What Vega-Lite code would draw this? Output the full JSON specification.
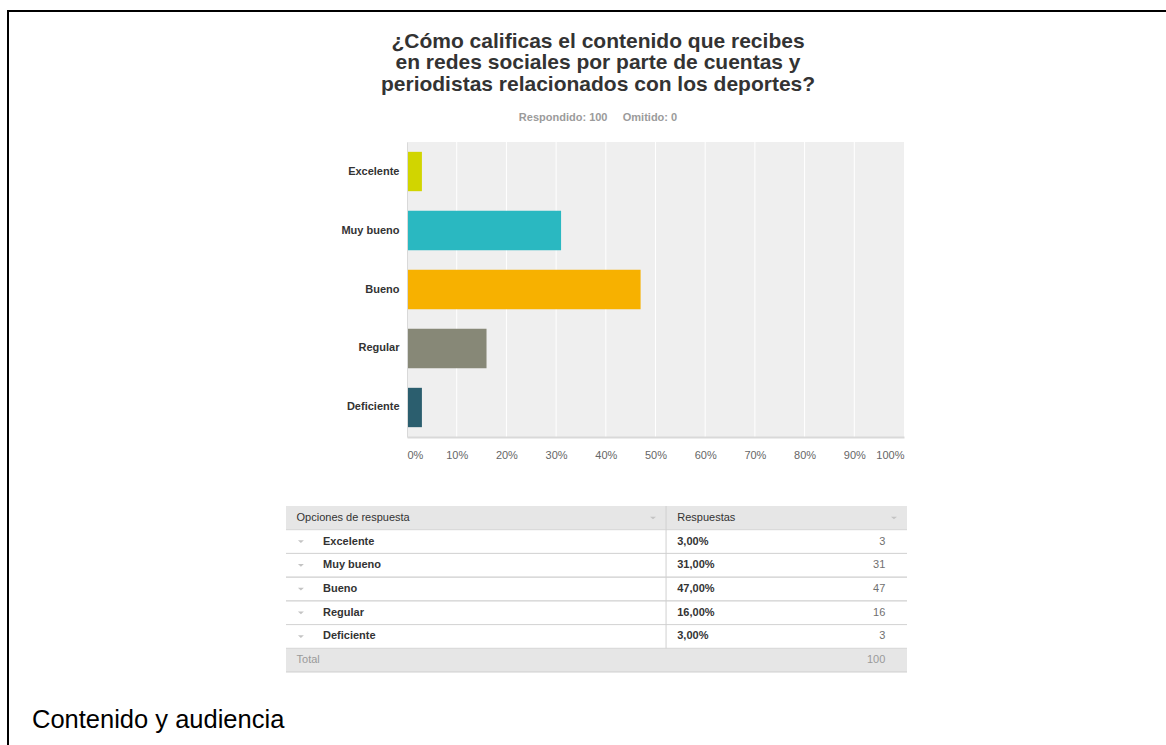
{
  "$schema": "https://vega.github.io/schema/vega-lite/v6.json",
  "width": 1158,
  "height": 734,
  "autosize": {"type": "none"},
  "padding": {"left": 8, "top": 11, "right": 0, "bottom": 0},
  "background": "#ffffff",
  "config": {
    "view": {"stroke": "#000000", "strokeWidth": 2, "strokeDash": [1158, 1892, 734]},
    "font": "Liberation Sans",
    "text": {"font": "Liberation Sans"},
    "locale": {"number": {"decimal": ",", "thousands": ".", "grouping": [3], "currency": ["", "\u00a0€"]}}
  },
  "title": {
    "text": ["¿Cómo calificas el contenido que recibes", "en redes sociales por parte de cuentas y", "periodistas relacionados con los deportes?"],
    "subtitle": "Respondido: 100\u00a0\u00a0\u00a0\u00a0\u00a0Omitido: 0",
    "orient": "top",
    "anchor": "middle",
    "frame": "group",
    "offset": -112,
    "dx": 11,
    "font": "Liberation Sans",
    "fontSize": 21,
    "fontWeight": "bold",
    "color": "#333333",
    "lineHeight": 21.6,
    "subtitleFont": "Liberation Sans",
    "subtitleFontSize": 11,
    "subtitleFontWeight": "bold",
    "subtitleColor": "#9b9b9b",
    "subtitlePadding": 17
  },
  "datasets": {
    "respuestas": [
      {"opcion": "Excelente", "pct": 0.03, "n": 3},
      {"opcion": "Muy bueno", "pct": 0.31, "n": 31},
      {"opcion": "Bueno", "pct": 0.47, "n": 47},
      {"opcion": "Regular", "pct": 0.16, "n": 16},
      {"opcion": "Deficiente", "pct": 0.03, "n": 3}
    ],
    "rejilla": [{"v": 0.1}, {"v": 0.2}, {"v": 0.3}, {"v": 0.4}, {"v": 0.5}, {"v": 0.6}, {"v": 0.7}, {"v": 0.8}, {"v": 0.9}]
  },
  "data": {"name": "respuestas"},
  "layer": [
    {
      "layer": [
        {
          "data": {"values": [{}]},
          "mark": {"type": "rect", "color": "#efefef"},
          "encoding": {
            "x": {"datum": 0, "type": "quantitative", "scale": {"domain": [0, 1], "range": [399, 896], "nice": false, "zero": false}},
            "x2": {"datum": 1},
            "y": {"datum": 0, "type": "quantitative", "scale": {"domain": [0, 1], "range": [131, 426], "nice": false, "zero": false}, "axis": null},
            "y2": {"datum": 1}
          }
        },
        {
          "data": {"name": "rejilla"},
          "mark": {"type": "rule", "color": "#ffffff", "strokeWidth": 1},
          "encoding": {
            "x": {"field": "v", "type": "quantitative"},
            "y": {"datum": 0, "type": "quantitative", "scale": {"domain": [0, 1], "range": [131, 426], "nice": false, "zero": false}, "axis": null},
            "y2": {"datum": 1}
          }
        },
        {
          "mark": {"type": "bar"},
          "encoding": {
            "y": {
              "field": "opcion", "type": "nominal",
              "scale": {"domain": ["Excelente", "Muy bueno", "Bueno", "Regular", "Deficiente"], "range": [131, 426], "paddingInner": 0.333, "paddingOuter": 0.1667},
              "axis": {"orient": "left", "offset": -399, "ticks": false, "domain": true, "domainColor": "#d9d9d9", "domainWidth": 1, "labelPadding": 8, "labelFont": "Liberation Sans", "labelFontSize": 11, "labelFontWeight": "bold", "labelColor": "#333333", "title": null, "grid": false, "zindex": 1}
            },
            "x": {
              "field": "pct", "type": "quantitative",
              "axis": {"orient": "bottom", "offset": -308, "values": [0, 0.1, 0.2, 0.3, 0.4, 0.5, 0.6, 0.7, 0.8, 0.9, 1], "format": ".0%", "labelFlush": true, "labelPadding": 12, "labelFont": "Liberation Sans", "labelFontSize": 11, "labelColor": "#666666", "ticks": false, "domain": true, "domainColor": "#d9d9d9", "domainWidth": 2, "grid": false, "title": null, "zindex": 1}
            },
            "color": {
              "field": "opcion", "type": "nominal",
              "scale": {"domain": ["Excelente", "Muy bueno", "Bueno", "Regular", "Deficiente"], "range": ["#d1d500", "#2ab8c1", "#f7b100", "#878877", "#2b5e6e"]},
              "legend": null
            }
          }
        }
      ],
      "resolve": {"scale": {"y": "independent"}}
    },
    {
      "layer": [
        {
          "data": {"values": [{}]},
          "mark": {"type": "rect", "color": "#e6e6e6"},
          "encoding": {
            "x": {"datum": 0, "type": "quantitative", "scale": {"domain": [0, 100], "range": [278, 899], "nice": false, "zero": false}, "axis": null},
            "x2": {"datum": 100},
            "y": {"datum": "Opciones de respuesta", "type": "nominal", "scale": {"type": "band", "domain": ["Opciones de respuesta", "Excelente", "Muy bueno", "Bueno", "Regular", "Deficiente", "Total"], "range": [495, 661], "paddingInner": 0, "paddingOuter": 0}, "axis": null}
          }
        },
        {
          "data": {"values": [{}]},
          "mark": {"type": "rect", "color": "#e6e6e6"},
          "encoding": {
            "x": {"datum": 0, "type": "quantitative", "axis": null},
            "x2": {"datum": 100},
            "y": {"datum": "Total", "type": "nominal", "axis": null}
          }
        },
        {
          "mark": {"type": "rule", "color": "#d6d6d6", "strokeWidth": 1},
          "encoding": {
            "x": {"datum": 0, "type": "quantitative", "axis": null},
            "x2": {"datum": 100},
            "y": {"field": "opcion", "type": "nominal", "bandPosition": 0, "axis": null}
          }
        },
        {
          "mark": {"type": "rule", "color": "#d6d6d6", "strokeWidth": 1},
          "encoding": {
            "x": {"datum": 0, "type": "quantitative", "axis": null},
            "x2": {"datum": 100},
            "y": {"field": "opcion", "type": "nominal", "bandPosition": 1, "axis": null}
          }
        },
        {
          "data": {"values": [{}]},
          "mark": {"type": "rule", "color": "#cfcfcf", "strokeWidth": 1},
          "encoding": {
            "x": {"datum": 0, "type": "quantitative", "axis": null},
            "x2": {"datum": 100},
            "y": {"datum": "Total", "type": "nominal", "bandPosition": 1, "axis": null}
          }
        },
        {
          "data": {"values": [{}]},
          "mark": {"type": "rule", "color": "#d0d0d0", "strokeWidth": 1},
          "encoding": {
            "x": {"datum": 61.2, "type": "quantitative", "axis": null},
            "y": {"datum": "Opciones de respuesta", "type": "nominal", "bandPosition": 0, "axis": null},
            "y2": {"datum": "Deficiente", "bandPosition": 1}
          }
        },
        {
          "data": {"values": [{}]},
          "mark": {"type": "text", "align": "left", "baseline": "middle", "fontSize": 11, "color": "#333333"},
          "encoding": {
            "text": {"value": "Opciones de respuesta"},
            "x": {"datum": 1.7, "type": "quantitative", "axis": null},
            "y": {"datum": "Opciones de respuesta", "type": "nominal", "axis": null}
          }
        },
        {
          "data": {"values": [{}]},
          "mark": {"type": "text", "align": "left", "baseline": "middle", "fontSize": 11, "color": "#333333"},
          "encoding": {
            "text": {"value": "Respuestas"},
            "x": {"datum": 63.0, "type": "quantitative", "axis": null},
            "y": {"datum": "Opciones de respuesta", "type": "nominal", "axis": null}
          }
        },
        {
          "data": {"values": [{"c": 59.1}, {"c": 97.9}]},
          "mark": {"type": "point", "shape": "M-1,-0.4L1,-0.4L0,0.5Z", "size": 36, "filled": true, "color": "#c4c4c4", "opacity": 1},
          "encoding": {
            "x": {"field": "c", "type": "quantitative", "axis": null},
            "y": {"datum": "Opciones de respuesta", "type": "nominal", "axis": null}
          }
        },
        {
          "mark": {"type": "point", "shape": "M-1,-0.4L1,-0.4L0,0.5Z", "size": 36, "filled": true, "color": "#c4c4c4", "opacity": 1},
          "encoding": {
            "x": {"datum": 2.4, "type": "quantitative", "axis": null},
            "y": {"field": "opcion", "type": "nominal", "axis": null}
          }
        },
        {
          "mark": {"type": "text", "align": "left", "baseline": "middle", "fontSize": 11, "fontWeight": "bold", "color": "#333333"},
          "encoding": {
            "text": {"field": "opcion"},
            "x": {"datum": 5.96, "type": "quantitative", "axis": null},
            "y": {"field": "opcion", "type": "nominal", "axis": null}
          }
        },
        {
          "mark": {"type": "text", "align": "left", "baseline": "middle", "fontSize": 11, "fontWeight": "bold", "color": "#333333"},
          "encoding": {
            "text": {"field": "pct", "format": ".2%"},
            "x": {"datum": 63.0, "type": "quantitative", "axis": null},
            "y": {"field": "opcion", "type": "nominal", "axis": null}
          }
        },
        {
          "mark": {"type": "text", "align": "right", "baseline": "middle", "fontSize": 11, "color": "#707070"},
          "encoding": {
            "text": {"field": "n"},
            "x": {"datum": 96.5, "type": "quantitative", "axis": null},
            "y": {"field": "opcion", "type": "nominal", "axis": null}
          }
        },
        {
          "data": {"values": [{}]},
          "mark": {"type": "text", "align": "left", "baseline": "middle", "fontSize": 11, "color": "#9a9a9a"},
          "encoding": {
            "text": {"value": "Total"},
            "x": {"datum": 1.7, "type": "quantitative", "axis": null},
            "y": {"datum": "Total", "type": "nominal", "axis": null}
          }
        },
        {
          "data": {"values": [{}]},
          "mark": {"type": "text", "align": "right", "baseline": "middle", "fontSize": 11, "color": "#9a9a9a"},
          "encoding": {
            "text": {"value": "100"},
            "x": {"datum": 96.5, "type": "quantitative", "axis": null},
            "y": {"datum": "Total", "type": "nominal", "axis": null}
          }
        }
      ]
    },
    {
      "data": {"values": [{"texto": "Contenido y audiencia"}]},
      "mark": {"type": "text", "align": "left", "baseline": "alphabetic", "fontSize": 25.5, "color": "#000000", "font": "Liberation Sans"},
      "encoding": {
        "text": {"field": "texto"},
        "x": {"datum": 0.0207, "type": "quantitative", "scale": {"domain": [0, 1], "nice": false, "zero": false}, "axis": null},
        "y": {"datum": 0.0232, "type": "quantitative", "scale": {"domain": [0, 1], "nice": false, "zero": false}, "axis": null}
      }
    }
  ],
  "resolve": {"scale": {"x": "independent", "y": "independent"}}
}
